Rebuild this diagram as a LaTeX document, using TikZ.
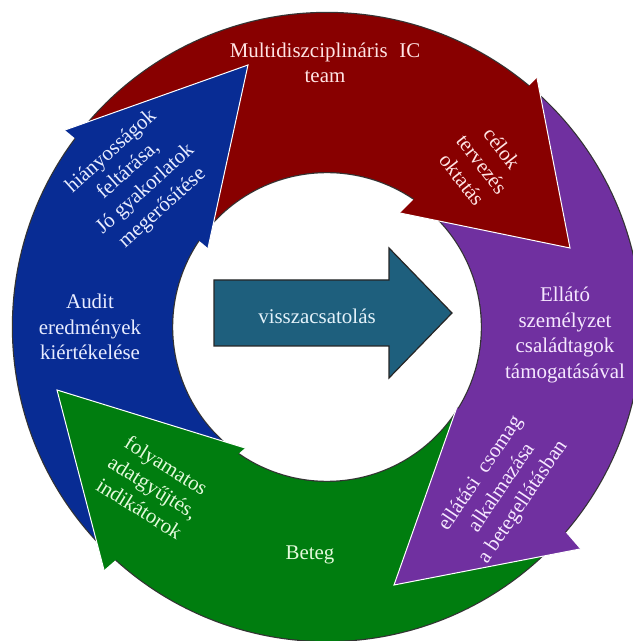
\documentclass[tikz,border=0pt]{standalone}
\usepackage{fontspec}
\setmainfont{Liberation Serif}
\definecolor{cred}{RGB}{136,0,0}
\definecolor{cblue}{RGB}{8,44,148}
\definecolor{cgreen}{RGB}{0,125,15}
\definecolor{cpurple}{RGB}{112,48,160}
\definecolor{cteal}{RGB}{30,95,125}
\definecolor{tred}{RGB}{255,228,228}
\definecolor{tblue}{RGB}{232,236,255}
\definecolor{tgreen}{RGB}{228,250,220}
\definecolor{tpurple}{RGB}{246,232,255}
\definecolor{tteal}{RGB}{228,242,250}
\begin{document}
\begin{tikzpicture}[x=1bp,y=1bp,
  txt/.style={font=\fontsize{21}{25.5}\selectfont, align=center, inner sep=0pt},
  shadowline/.style={draw=black!80, line width=2.4bp},
  headedge/.style={draw=white, line width=1bp, line join=miter}]
\useasboundingbox (0,0) rectangle (633,641);
\fill[white] (0,0) rectangle (633,641);
\coordinate (C) at (327,314);
% ring bodies: head-end outer / tail outer / tail inner / head-end inner angles
% dark outlines of the ring arcs
\foreach \ho/\to/\ti/\hi in {48.5/142/144.5/52, 141/226.5/233.5/141.5, 225.5/318/327/231.5, 316.5/409.5/415.5/326.5} {
  \draw[shadowline] ([shift={(\ho:314)}]C) arc[start angle=\ho, end angle=\to, radius=314];
  \draw[shadowline] ([shift={(\ti:155)}]C) arc[start angle=\ti, end angle=\hi, radius=155];
}
% arrow bodies
\foreach \ho/\to/\ti/\hi/\col in {48.5/142/144.5/52/cred, 141/226.5/233.5/141.5/cblue, 225.5/318/327/231.5/cgreen, 316.5/409.5/415.5/326.5/cpurple} {
  \fill[\col] ([shift={(\ho:314)}]C) arc[start angle=\ho, end angle=\to, radius=314]
    -- ([shift={(\ti:155)}]C) arc[start angle=\ti, end angle=\hi, radius=155] -- cycle;
}
% arrow heads: outer wing, tip, inner wing
\coordinate (rW) at (537,563); \coordinate (rT) at (570,393); \coordinate (rI) at (400,428);
\coordinate (bW) at (65,511);  \coordinate (bT) at (248,576); \coordinate (bI) at (208,393);
\coordinate (gW) at (104,71);  \coordinate (gT) at (57,251);  \coordinate (gI) at (245,193);
\coordinate (pW) at (580,92);  \coordinate (pT) at (394,56);  \coordinate (pI) at (457,234);
\foreach \h/\col in {r/cred, b/cblue, g/cgreen, p/cpurple} {
  \fill[\col] (\h W) -- (\h T) -- (\h I) -- cycle;
  \draw[headedge] (\h W) -- (\h T) -- (\h I);
}
% central feedback arrow
\draw[fill=cteal, draw=black!85, line width=1.2bp]
  (214,361) -- (389,361) -- (389,393) -- (452,328) -- (389,263) -- (389,295) -- (214,295) -- cycle;
% texts
\node[txt, text=tred] (team) at (325,578) {Multidiszciplináris\hskip0.55em IC\\team};
\node[txt, text=tred, rotate=-52] (celok) at (482,477) {célok\\tervezés\\oktatás};
\node[txt, text=tpurple] (ellato) at (565,306) {Ellátó\\személyzet\\családtagok\\támogatásával};
\node[txt, text=tpurple, rotate=56] (csomag) at (502,153) {ellátási\hskip0.5em csomag\\alkalmazása\\a betegellátásban};
\node[txt, text=tgreen] (beteg) at (310,86) {Beteg};
\node[txt, text=tgreen, rotate=-32] (folyam) at (153,154) {folyamatos\\adatgyűjtés,\\indikátorok};
\node[txt, text=tblue] (audit) at (90,314) {Audit\\eredmények\\kiértékelése};
\node[txt, text=tblue, rotate=42] (hiany) at (137,461) {hiányosságok\\feltárása,\\Jó gyakorlatok\\megerősítése};
\node[txt, text=tteal] (vissza) at (317,325) {visszacsatolás};
\end{tikzpicture}
\end{document}
